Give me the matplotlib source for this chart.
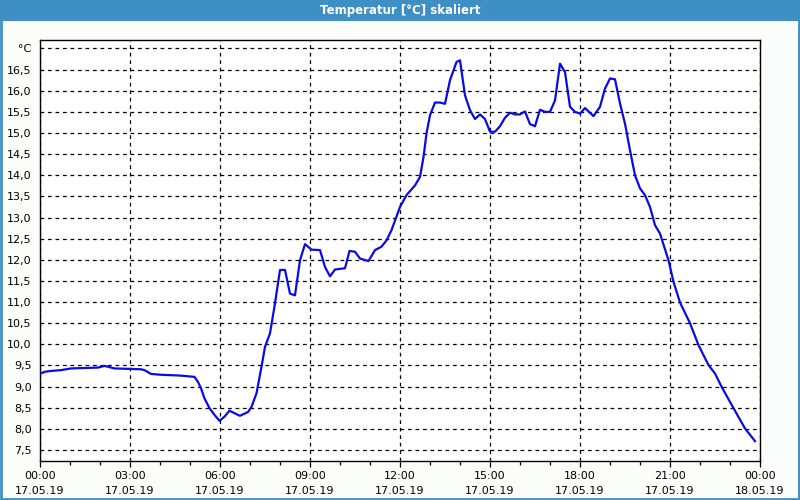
import pandas as pd
import matplotlib
matplotlib.use("Agg")
import matplotlib.pyplot as plt
import matplotlib.dates as mdates
from matplotlib.ticker import MultipleLocator, FuncFormatter
from matplotlib.patches import Rectangle

times = ["00:00", "00:09", "00:22", "00:42", "01:02", "01:56", "02:09", "02:19", "02:29",
         "03:22", "03:29", "03:42", "04:02", "04:42", "05:09", "05:16", "05:22", "05:29",
         "05:39", "05:49", "05:59", "06:09", "06:19", "06:36", "06:40", "06:56", "07:03",
         "07:13", "07:23", "07:30", "07:40", "07:50", "08:00", "08:10", "08:20", "08:30",
         "08:40", "08:50", "09:03", "09:20", "09:30", "09:40", "09:50", "10:10", "10:19",
         "10:30", "10:40", "10:57", "11:10", "11:23", "11:33", "11:43", "12:00", "12:13",
         "12:30", "12:40", "12:47", "12:53", "13:00", "13:10", "13:20", "13:30", "13:40",
         "13:53", "14:00", "14:10", "14:20", "14:30", "14:40", "14:50", "15:00", "15:10",
         "15:20", "15:30", "15:40", "15:50", "16:00", "16:10", "16:20", "16:30", "16:40",
         "16:50", "17:00", "17:10", "17:20", "17:30", "17:40", "17:50", "18:00", "18:10",
         "18:27", "18:40", "18:50", "19:00", "19:10", "19:20", "19:30", "19:40", "19:50",
         "20:00", "20:10", "20:20", "20:30", "20:40", "20:57", "21:07", "21:20", "21:40",
         "21:57", "22:17", "22:30", "22:43", "23:07", "23:30", "23:50"]
temps = [9.30, 9.35, 9.37, 9.39, 9.43, 9.45, 9.49, 9.46, 9.43,
         9.41, 9.39, 9.30, 9.28, 9.26, 9.23, 9.11, 8.96, 8.72,
         8.49, 8.33, 8.19, 8.29, 8.43, 8.33, 8.31, 8.40, 8.52,
         8.84, 9.47, 9.94, 10.26, 10.97, 11.76, 11.76, 11.20, 11.16,
         11.99, 12.37, 12.24, 12.23, 11.83, 11.61, 11.77, 11.80, 12.21,
         12.19, 12.03, 11.97, 12.23, 12.31, 12.46, 12.70, 13.25, 13.53,
         13.76, 13.96, 14.43, 14.99, 15.42, 15.72, 15.72, 15.69, 16.25,
         16.68, 16.72, 15.89, 15.54, 15.33, 15.44, 15.33, 15.03, 15.03,
         15.16, 15.36, 15.48, 15.44, 15.44, 15.51, 15.21, 15.16, 15.55,
         15.50, 15.50, 15.77, 16.64, 16.44, 15.62, 15.50, 15.46, 15.59,
         15.40, 15.62, 16.05, 16.29, 16.27, 15.70, 15.22, 14.59, 14.00,
         13.69, 13.53, 13.25, 12.82, 12.62, 11.99, 11.48, 10.99, 10.50,
         9.98, 9.51, 9.31, 9.00, 8.49, 8.01, 7.71]

day = "2019-05-17"
t = pd.to_datetime([day + " " + s for s in times])

blue_bar = "#3d8fc4"

fig = plt.figure(figsize=(8, 5), dpi=100, facecolor="#fbfdfb")

# Titelleiste und Rahmen
fig.patches.append(Rectangle((0, 479 / 500), 1, 21 / 500, transform=fig.transFigure,
                             facecolor=blue_bar, edgecolor="none", zorder=0))
fig.patches.append(Rectangle((0.001, 0.002), 0.998, 0.996, transform=fig.transFigure,
                             facecolor="none", edgecolor=blue_bar, linewidth=2, zorder=5))
fig.text(0.5, 489.5 / 500, "Temperatur [°C] skaliert", color="white", fontsize=8.5,
         fontweight="bold", ha="center", va="center")

ax = fig.add_axes([40 / 800, 39 / 500, 720 / 800, 421 / 500])
ax.set_facecolor("white")
ax.plot(t, temps, color="#0a0ae6", linewidth=1.6, zorder=3)

ax.set_xlim(pd.Timestamp(day), pd.Timestamp("2019-05-18"))
ax.set_ylim(7.24, 17.2)

ax.xaxis.set_major_locator(mdates.HourLocator(byhour=range(0, 24, 3)))
ax.xaxis.set_minor_locator(mdates.HourLocator())
ax.xaxis.set_major_formatter(mdates.DateFormatter("%H:%M\n%d.%m.%y"))
ax.yaxis.set_major_locator(MultipleLocator(0.5))


def yfmt(v, pos):
    if abs(v - 17.0) < 1e-6:
        return "°C"
    return f"{v:.1f}".replace(".", ",")


ax.yaxis.set_major_formatter(FuncFormatter(yfmt))

ax.grid(True, which="major", color="black", linestyle=(0, (3, 3)), linewidth=0.9)
ax.tick_params(axis="x", which="major", length=4, width=0.9, labelsize=8, pad=3.5)
ax.tick_params(axis="x", which="minor", length=3, width=0.9)
ax.tick_params(axis="y", length=0, labelsize=8, pad=6)
for lbl in ax.get_xticklabels():
    lbl.set_linespacing(1.6)
for s in ax.spines.values():
    s.set_color("black")
    s.set_linewidth(1)

fig.savefig("out.png", dpi=100, facecolor=fig.get_facecolor())
